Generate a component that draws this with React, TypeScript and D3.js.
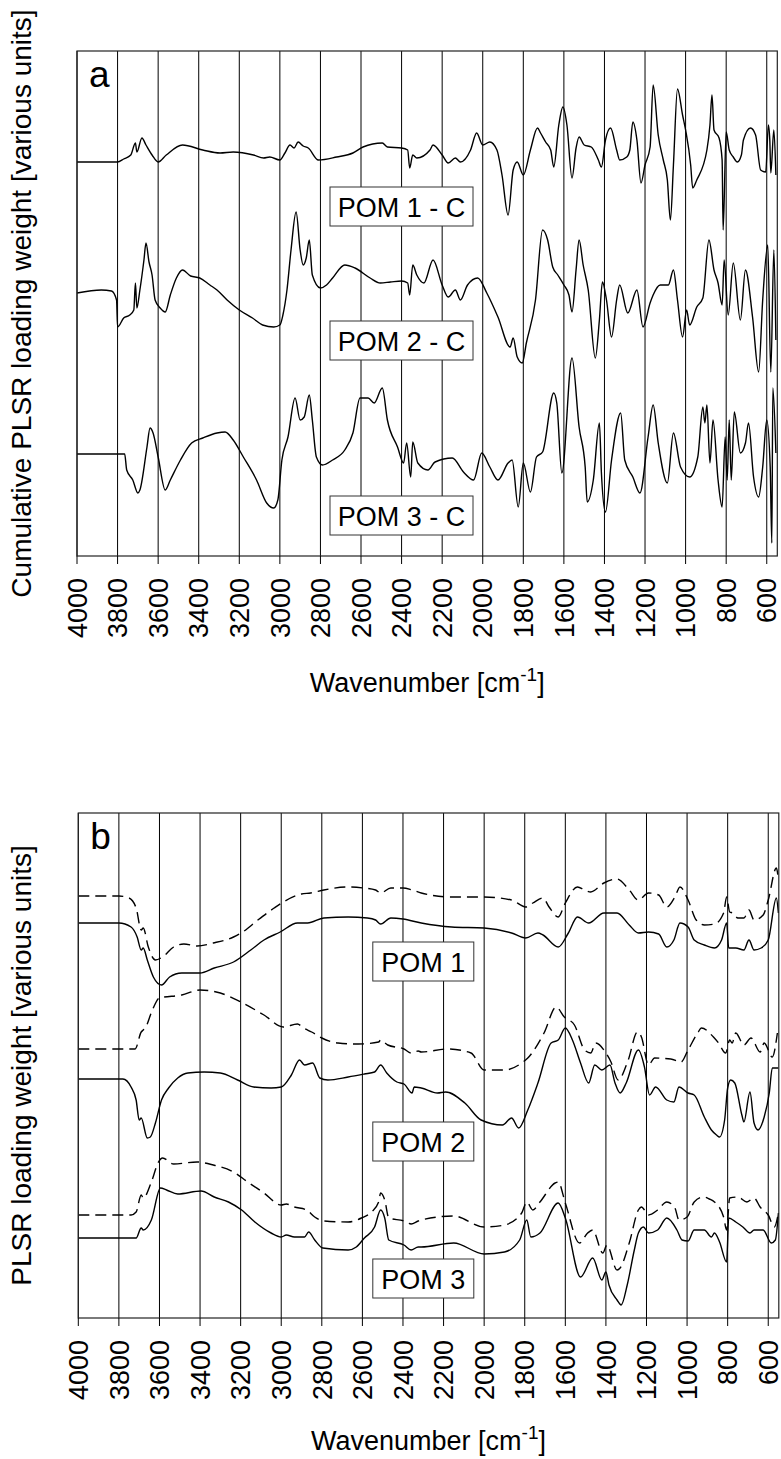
import React from "react";
import * as d3 from "d3";

// Wavenumber ticks shared by both panels
const WN_TICKS = [4000, 3800, 3600, 3400, 3200, 3000, 2800, 2600, 2400, 2200, 2000, 1800, 1600, 1400, 1200, 1000, 800, 600];
const WN_DOMAIN: [number, number] = [4000, 548];

type Pt = [number, number];

// Panel a: cumulative loading weights (stacked with offsets, arbitrary units)
const pom1C: Pt[] = [
  [4000, 394], [3810, 394], [3800, 394], [3770, 397], [3735, 401], [3712, 413], [3705, 404], [3680, 418], [3660, 411],
  [3630, 401], [3600, 394], [3560, 401], [3480, 411], [3380, 406], [3295, 403], [3230, 404], [3130, 401], [3080, 398],
  [3050, 399], [3000, 396], [2975, 403], [2950, 411], [2930, 408], [2910, 414], [2885, 410], [2860, 408], [2810, 396],
  [2720, 399], [2640, 403], [2590, 409], [2495, 413], [2470, 409], [2400, 408], [2370, 406], [2360, 388], [2345, 401],
  [2325, 398], [2260, 406], [2245, 411], [2200, 401], [2170, 393], [2135, 398], [2110, 394], [2060, 406], [2030, 423],
  [2000, 411], [1965, 414], [1930, 406], [1905, 381], [1875, 341], [1850, 386], [1830, 394], [1800, 381], [1765, 406],
  [1730, 428], [1715, 423], [1690, 414], [1665, 406], [1650, 389], [1625, 431], [1605, 449], [1585, 431], [1560, 378],
  [1540, 408], [1525, 419], [1500, 411], [1465, 409], [1430, 396], [1415, 389], [1395, 416], [1370, 428], [1340, 406],
  [1325, 396], [1290, 399], [1275, 406], [1260, 434], [1240, 416], [1220, 373], [1200, 391], [1175, 409], [1160, 471],
  [1135, 421], [1110, 396], [1090, 376], [1075, 336], [1060, 391], [1040, 467], [1015, 441], [1000, 426], [975, 391],
  [965, 368], [945, 376], [895, 406], [880, 431], [870, 461], [860, 426], [835, 418], [820, 396], [815, 326], [800, 424],
  [785, 406], [765, 399], [745, 394], [725, 401], [715, 416], [680, 428], [655, 421], [630, 386], [605, 384], [592, 431],
  [585, 416], [580, 383], [565, 426], [555, 381],
];

const pom2C: Pt[] = [
  [4000, 263], [3880, 266], [3830, 265], [3805, 256], [3800, 229], [3770, 238], [3740, 241], [3720, 246], [3712, 273],
  [3705, 248], [3690, 266], [3670, 296], [3660, 313], [3645, 294], [3630, 281], [3615, 256], [3590, 248], [3565, 244],
  [3540, 261], [3510, 278], [3480, 286], [3440, 280], [3395, 278], [3345, 271], [3310, 266], [3260, 256], [3200, 246],
  [3135, 238], [3085, 231], [3030, 229], [3000, 231], [2985, 241], [2965, 266], [2945, 306], [2920, 344], [2900, 306],
  [2885, 291], [2870, 298], [2855, 316], [2840, 281], [2800, 268], [2770, 271], [2740, 278], [2680, 291], [2630, 288],
  [2555, 278], [2505, 273], [2455, 274], [2400, 275], [2370, 273], [2360, 261], [2345, 291], [2325, 281], [2290, 273],
  [2245, 296], [2200, 271], [2170, 259], [2135, 266], [2110, 256], [2075, 271], [2025, 278], [1980, 263], [1925, 239],
  [1865, 209], [1850, 218], [1830, 199], [1805, 193], [1785, 213], [1740, 256], [1705, 326], [1680, 316], [1655, 289],
  [1630, 281], [1600, 271], [1575, 261], [1560, 244], [1540, 286], [1525, 316], [1505, 291], [1480, 266], [1445, 198],
  [1425, 236], [1410, 274], [1390, 256], [1365, 219], [1340, 256], [1325, 271], [1285, 243], [1240, 266], [1210, 229],
  [1175, 253], [1160, 261], [1125, 271], [1085, 271], [1060, 286], [1040, 256], [1015, 219], [995, 246], [980, 231],
  [945, 249], [915, 258], [885, 316], [860, 286], [840, 273], [820, 251], [810, 296], [790, 241], [765, 293], [730, 236],
  [705, 286], [670, 239], [640, 184], [620, 256], [595, 311], [580, 184], [565, 306], [555, 216],
];

const pom3C: Pt[] = [
  [4000, 102], [3765, 102], [3755, 86], [3725, 76], [3700, 63], [3690, 66], [3655, 109], [3640, 128], [3625, 123],
  [3600, 99], [3565, 66], [3540, 76], [3490, 96], [3435, 113], [3380, 118], [3310, 123], [3270, 124], [3230, 116],
  [3180, 99], [3115, 76], [3065, 53], [3030, 48], [3010, 56], [2990, 96], [2960, 119], [2925, 158], [2900, 136],
  [2880, 139], [2855, 161], [2840, 136], [2820, 99], [2790, 91], [2740, 96], [2680, 106], [2640, 123], [2605, 158],
  [2565, 158], [2535, 153], [2495, 168], [2470, 136], [2420, 109], [2390, 93], [2375, 113], [2355, 79], [2345, 114],
  [2320, 93], [2270, 86], [2235, 94], [2150, 98], [2095, 84], [2045, 76], [2005, 103], [1965, 89], [1925, 76],
  [1875, 93], [1855, 96], [1825, 49], [1800, 93], [1765, 64], [1735, 99], [1705, 104], [1650, 163], [1635, 153],
  [1610, 83], [1560, 198], [1525, 129], [1495, 89], [1485, 54], [1455, 76], [1425, 133], [1415, 83], [1395, 44],
  [1365, 96], [1320, 143], [1300, 96], [1260, 79], [1225, 63], [1185, 119], [1160, 151], [1135, 113], [1090, 73],
  [1060, 123], [1025, 89], [980, 79], [940, 99], [915, 149], [905, 133], [895, 151], [880, 93], [865, 136], [840, 76],
  [820, 49], [805, 119], [795, 76], [785, 136], [775, 76], [760, 144], [730, 103], [705, 113], [690, 133], [665, 79],
  [640, 59], [620, 89], [600, 136], [583, 89], [575, 13], [570, 168], [555, 103],
];

// Panel b: individual loading weights, solid and dashed variants
const pom1Dashed: Pt[] = [
  [4000, 422], [3800, 422], [3750, 420], [3715, 410], [3690, 388], [3680, 390], [3655, 371], [3620, 358], [3585, 361],
  [3530, 371], [3480, 374], [3415, 372], [3335, 375], [3235, 381], [3190, 386], [3115, 398], [3035, 410], [2990, 416],
  [2900, 424], [2855, 425], [2790, 428], [2670, 431], [2595, 430], [2535, 428], [2510, 425], [2460, 430], [2400, 430],
  [2355, 428], [2310, 425], [2160, 421], [2000, 421], [1865, 418], [1795, 411], [1760, 415], [1710, 420], [1680, 411],
  [1635, 401], [1600, 415], [1540, 431], [1505, 428], [1475, 426], [1410, 435], [1345, 439], [1285, 428], [1240, 418],
  [1190, 425], [1140, 423], [1100, 411], [1060, 421], [1035, 431], [995, 418], [955, 398], [915, 393], [865, 394],
  [820, 405], [805, 421], [790, 406], [775, 405], [750, 400], [720, 400], [695, 408], [670, 398], [625, 403], [600, 418],
  [560, 450], [550, 438],
];

const pom1Solid: Pt[] = [
  [4000, 395], [3800, 395], [3740, 391], [3710, 381], [3690, 368], [3680, 370], [3660, 358], [3630, 341], [3590, 333],
  [3550, 341], [3490, 345], [3400, 345], [3330, 350], [3235, 356], [3150, 368], [3085, 378], [3005, 386], [2920, 395],
  [2870, 395], [2790, 400], [2670, 401], [2575, 400], [2535, 398], [2510, 394], [2460, 400], [2400, 399], [2310, 395],
  [2160, 391], [2000, 390], [1865, 385], [1795, 380], [1735, 385], [1710, 383], [1635, 371], [1585, 385], [1540, 401],
  [1485, 395], [1410, 405], [1345, 405], [1285, 393], [1240, 385], [1190, 386], [1140, 384], [1100, 371], [1065, 378],
  [1035, 395], [995, 391], [965, 378], [915, 373], [865, 370], [830, 378], [805, 395], [795, 370], [760, 370], [720, 368],
  [695, 378], [670, 368], [635, 370], [600, 378], [560, 420], [550, 405],
];

const pom2Dashed: Pt[] = [
  [4000, 269], [3720, 269], [3690, 286], [3680, 288], [3670, 290], [3635, 308], [3600, 320], [3490, 323], [3400, 328],
  [3300, 325], [3200, 316], [3085, 303], [2990, 291], [2920, 294], [2890, 290], [2850, 286], [2800, 280], [2720, 275],
  [2620, 274], [2520, 276], [2510, 278], [2475, 273], [2395, 269], [2360, 265], [2325, 267], [2310, 266], [2180, 269],
  [2065, 265], [2000, 248], [1900, 248], [1815, 255], [1785, 260], [1705, 285], [1645, 311], [1605, 301], [1555, 293],
  [1505, 268], [1475, 265], [1450, 275], [1400, 265], [1375, 256], [1340, 238], [1290, 258], [1245, 286], [1225, 281],
  [1190, 253], [1160, 260], [1080, 259], [1030, 256], [995, 268], [945, 286], [930, 290], [870, 281], [845, 275],
  [810, 265], [790, 278], [778, 275], [760, 285], [720, 273], [685, 280], [640, 266], [620, 275], [580, 261], [555, 285],
];

const pom2Solid: Pt[] = [
  [4000, 239], [3780, 239], [3740, 231], [3715, 218], [3700, 198], [3690, 200], [3660, 180], [3645, 181], [3620, 195],
  [3590, 218], [3555, 230], [3510, 240], [3460, 245], [3380, 246], [3300, 245], [3215, 238], [3135, 231], [3050, 230],
  [3000, 231], [2950, 243], [2910, 258], [2885, 253], [2845, 255], [2810, 240], [2770, 238], [2670, 241], [2590, 244],
  [2540, 246], [2510, 253], [2480, 245], [2430, 236], [2395, 234], [2355, 225], [2345, 231], [2310, 230], [2230, 225],
  [2190, 226], [2095, 215], [2015, 198], [1910, 193], [1865, 200], [1830, 190], [1785, 208], [1735, 235], [1670, 275],
  [1635, 278], [1600, 290], [1565, 278], [1525, 255], [1485, 235], [1455, 253], [1420, 248], [1380, 253], [1355, 235],
  [1330, 225], [1300, 235], [1240, 268], [1210, 251], [1185, 223], [1155, 231], [1100, 218], [1065, 216], [1040, 231],
  [995, 225], [965, 223], [915, 201], [880, 188], [855, 183], [840, 181], [815, 198], [800, 230], [785, 238], [765, 235],
  [730, 203], [720, 196], [690, 226], [670, 195], [650, 188], [620, 201], [595, 225], [580, 250], [550, 250],
];

const pom3Dashed: Pt[] = [
  [4000, 103], [3740, 103], [3715, 106], [3690, 123], [3680, 120], [3640, 136], [3605, 156], [3585, 160], [3530, 154],
  [3415, 156], [3335, 153], [3235, 146], [3165, 136], [3085, 125], [3000, 113], [2975, 114], [2935, 111], [2875, 108],
  [2835, 101], [2790, 97], [2670, 96], [2605, 100], [2555, 106], [2520, 116], [2510, 125], [2490, 118], [2470, 100],
  [2395, 97], [2360, 94], [2325, 97], [2310, 98], [2150, 102], [2000, 91], [1900, 93], [1815, 105], [1790, 116],
  [1760, 108], [1725, 116], [1650, 135], [1635, 136], [1600, 115], [1530, 75], [1490, 85], [1465, 88], [1415, 65],
  [1395, 73], [1345, 48], [1330, 50], [1285, 75], [1240, 108], [1225, 111], [1190, 103], [1145, 108], [1100, 116],
  [1060, 110], [1040, 98], [1000, 101], [965, 116], [920, 121], [890, 119], [865, 116], [820, 101], [805, 88], [790, 120],
  [750, 121], [705, 116], [670, 120], [640, 111], [600, 103], [570, 91], [550, 105],
];

const pom3Solid: Pt[] = [
  [4000, 80], [3715, 80], [3690, 90], [3680, 88], [3640, 98], [3595, 130], [3565, 128], [3510, 124], [3395, 127],
  [3330, 121], [3260, 116], [3195, 108], [3130, 96], [3050, 85], [3000, 81], [2975, 83], [2935, 81], [2885, 81],
  [2865, 86], [2835, 78], [2795, 70], [2670, 68], [2630, 71], [2590, 80], [2540, 91], [2510, 108], [2490, 100],
  [2470, 78], [2395, 73], [2360, 68], [2325, 71], [2310, 71], [2150, 75], [2000, 64], [1900, 66], [1825, 78], [1790, 98],
  [1770, 81], [1725, 85], [1635, 115], [1600, 100], [1525, 41], [1465, 60], [1420, 38], [1400, 46], [1385, 33],
  [1345, 18], [1325, 13], [1295, 33], [1260, 68], [1240, 85], [1215, 91], [1190, 85], [1145, 88], [1100, 100], [1050, 88],
  [1025, 78], [995, 77], [965, 88], [915, 88], [880, 81], [865, 85], [840, 76], [805, 56], [795, 100], [760, 96],
  [725, 91], [690, 85], [670, 88], [625, 88], [585, 75], [565, 78], [550, 105],
];

const FONT = "'Liberation Sans', Arial, Helvetica, sans-serif";

interface Series { data: Pt[]; dashed?: boolean }
interface Legend { text: string; x: number; y: number; w: number }

interface PanelProps {
  top: number;
  left: number;
  width: number;
  height: number;
  letter: string;
  yTitle: string;
  xTitleOffset: number;
  series: Series[];
  legends: Legend[];
}

function Panel({ top, left, width, height, letter, yTitle, xTitleOffset, series, legends }: PanelProps) {
  const x = d3.scaleLinear().domain(WN_DOMAIN).range([0, width]);
  const y = d3.scaleLinear().domain([0, height]).range([height, 0]);
  const line = d3
    .line<Pt>()
    .x((d) => x(d[0]))
    .y((d) => y(d[1]))
    .curve(d3.curveMonotoneX);

  return (
    <g transform={`translate(${left},${top})`} fontFamily={FONT}>
      {/* vertical grid lines at every tick */}
      {WN_TICKS.map((t) => (
        <line key={`g${t}`} x1={x(t)} x2={x(t)} y1={0} y2={height} stroke="#000" strokeWidth={1} />
      ))}
      {series.map((s, i) => (
        <path
          key={i}
          d={line(s.data) || ""}
          fill="none"
          stroke="#000"
          strokeWidth={1.4}
          strokeDasharray={s.dashed ? "11,6" : undefined}
          strokeLinejoin="round"
        />
      ))}
      {legends.map((l) => (
        <g key={l.text}>
          <rect x={l.x} y={l.y} width={l.w} height={39} fill="#fff" stroke="#333" strokeWidth={1} />
          <text x={l.x + l.w / 2} y={l.y + 30} textAnchor="middle" fontSize={27} fill="#000">
            {l.text}
          </text>
        </g>
      ))}
      <rect x={0} y={0} width={width} height={height} fill="none" stroke="#222" strokeWidth={1.2} />
      <text x={12} y={36} fontSize={37} fill="#000">{letter}</text>
      {/* bottom axis */}
      {WN_TICKS.map((t) => (
        <g key={`t${t}`}>
          <line x1={x(t)} x2={x(t)} y1={height} y2={height + 8} stroke="#000" strokeWidth={1} />
          <text
            transform={`translate(${x(t)},${height + 22}) rotate(-90)`}
            textAnchor="end"
            dy="0.36em"
            fontSize={27}
            fill="#000"
          >
            {t}
          </text>
        </g>
      ))}
      <text x={width / 2} y={height + xTitleOffset} textAnchor="middle" fontSize={27} fill="#000">
        Wavenumber [cm<tspan dy={-11} fontSize={19}>-1</tspan><tspan dy={11}>]</tspan>
      </text>
      <text
        transform={`translate(${31 - left},${height / 2}) rotate(-90)`}
        textAnchor="middle"
        fontSize={28}
        fill="#000"
      >
        {yTitle}
      </text>
    </g>
  );
}

export default function App() {
  return (
    <svg
      width={781}
      height={1459}
      viewBox="0 0 781 1459"
      style={{ position: "absolute", left: 0, top: 0, background: "#fff" }}
    >
      <rect width={781} height={1459} fill="#fff" />
      <Panel
        top={51}
        left={77}
        width={700.3}
        height={505}
        letter="a"
        yTitle="Cumulative PLSR loading weight [various units]"
        xTitleOffset={136}
        series={[{ data: pom1C }, { data: pom2C }, { data: pom3C }]}
        legends={[
          { text: "POM 1 - C", x: 253, y: 136, w: 143 },
          { text: "POM 2 - C", x: 253, y: 270, w: 143 },
          { text: "POM 3 - C", x: 253, y: 445, w: 143 },
        ]}
      />
      <Panel
        top={813}
        left={78.3}
        width={700.5}
        height={505}
        letter="b"
        yTitle="PLSR loading weight [various units]"
        xTitleOffset={132}
        series={[
          { data: pom1Dashed, dashed: true },
          { data: pom1Solid },
          { data: pom2Dashed, dashed: true },
          { data: pom2Solid },
          { data: pom3Dashed, dashed: true },
          { data: pom3Solid },
        ]}
        legends={[
          { text: "POM 1", x: 294.5, y: 129, w: 101 },
          { text: "POM 2", x: 294.5, y: 309, w: 101 },
          { text: "POM 3", x: 294.5, y: 446, w: 101 },
        ]}
      />
    </svg>
  );
}
